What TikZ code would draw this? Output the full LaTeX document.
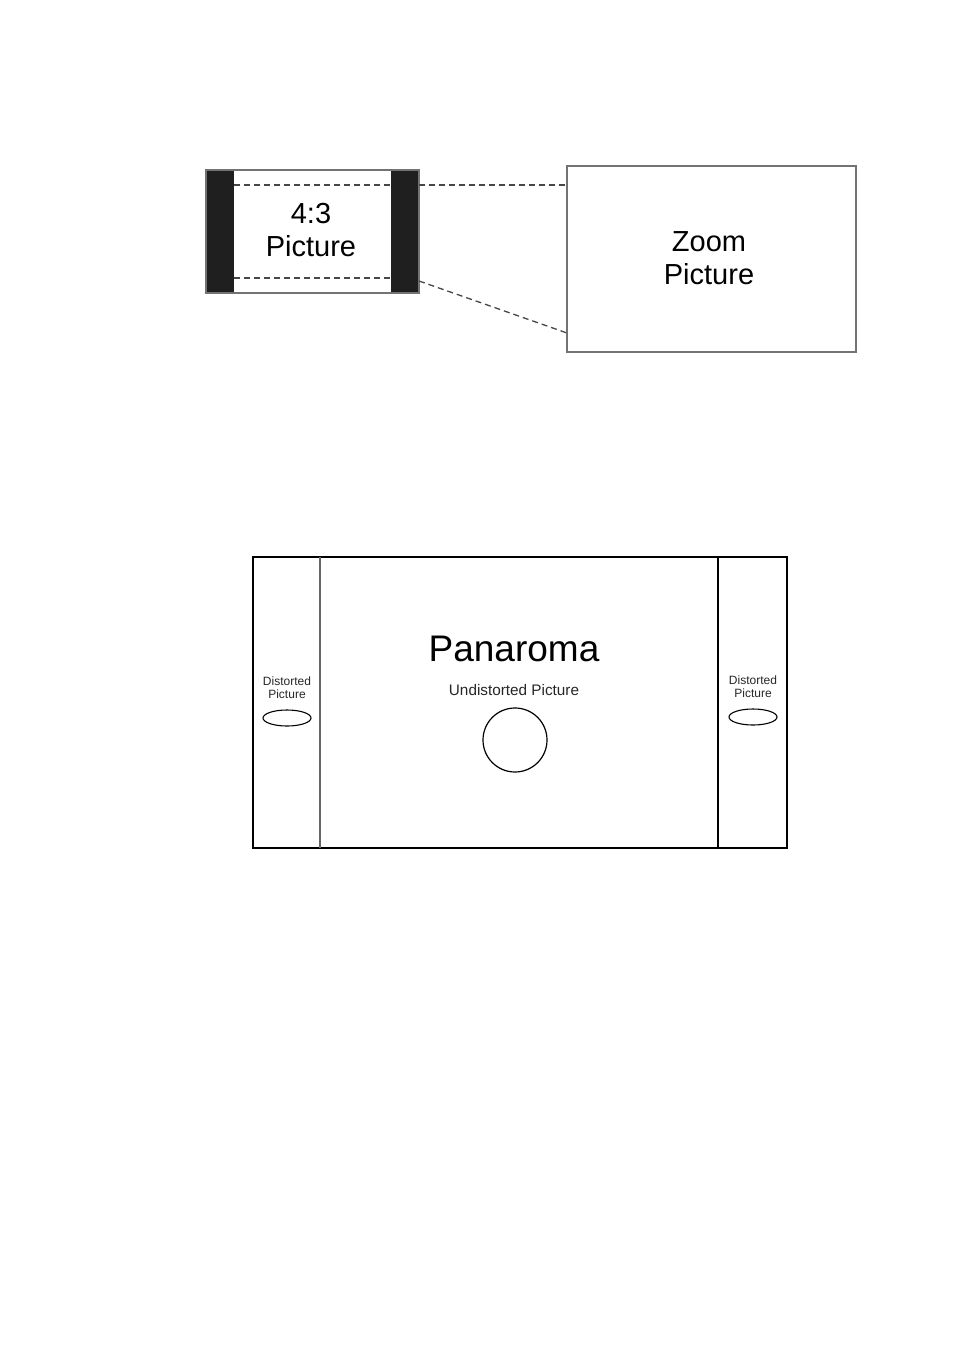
\documentclass[tikz,border=0pt]{standalone}
\usepackage{fontspec}
\setmainfont{Liberation Sans}
\begin{document}
\begin{tikzpicture}[x=1pt,y=-1pt,
  dashline/.style={draw=black!72,dash pattern=on 6pt off 4pt,line width=1.3pt},
  bigtxt/.style={font=\fontsize{29}{33}\selectfont,align=center,inner sep=0pt},
  smalltxt/.style={font=\fontsize{12}{13}\selectfont,align=center,inner sep=0pt,text=black!85}]
\useasboundingbox (0,0) rectangle (954,1355);
% top left: 4:3 picture
\fill[black!88] (206,170) rectangle (234,293);
\fill[black!88] (391,170) rectangle (419,293);
\draw[black!55,line width=1.4pt] (206,170) rectangle (419,293);
\coordinate (tl) at (234,185); \coordinate (tr) at (419,185);
\coordinate (bl) at (234,278); \coordinate (br) at (419,281);
\draw[dashline] (tl) -- (391,185);
\draw[dashline] (bl) -- (391,278);
\node[bigtxt] (t43) at (311,230) {4:3\\Picture};
% zoom picture
\node[draw=black!55,line width=1.6pt,minimum width=289pt,minimum height=186pt,inner sep=0pt] (zoom) at (711.5,259) {};
\node[bigtxt] (zt) at (709,258) {Zoom\\Picture};
\coordinate (zt1) at (567,185);
\coordinate (zb1) at (567,333);
\draw[dashline] (tr) -- (zt1);
\draw[dashline] (br) -- (zb1);
% panorama
\draw[black,line width=1.2pt] (253,557) rectangle (787,848);
\draw[black!60,line width=1.6pt] (320,557) -- (320,848);
\draw[black,line width=1.2pt] (718,557) -- (718,848);
\node[inner sep=0pt,font=\fontsize{37}{40}\selectfont] (pan) at (514,649) {Panaroma};
\node[inner sep=0pt,font=\fontsize{15.3}{17}\selectfont,text=black!85] (und) at (514,690) {Undistorted Picture};
\draw[line width=1.2pt] (515,740) circle (32pt);
\node[smalltxt] (dl) at (287,688) {Distorted\\Picture};
\draw[line width=1.1pt] (287,718) ellipse (24pt and 8pt);
\node[smalltxt] (dr) at (753,687) {Distorted\\Picture};
\draw[line width=1.1pt] (753,717) ellipse (24pt and 8pt);
\end{tikzpicture}
\end{document}
